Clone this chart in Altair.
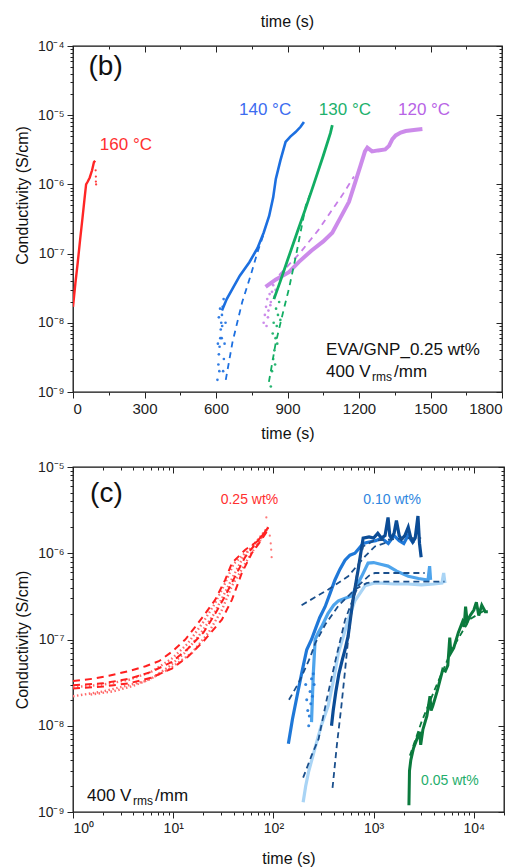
import altair as alt
import pandas as pd

FONT = "Liberation Sans"

# ---------------- Panel (b) data ----------------
b160_t = [0, 10, 20, 30, 40, 50, 55, 62, 70, 80, 88, 93]
b160_s = [1.7e-8, 3.7e-8, 7.5e-8, 1.6e-7, 3.3e-7, 7e-7, 1e-6, 1.1e-6, 1.25e-6, 1.6e-6, 2.1e-6, 2.2e-6]
b160_drop_t = [95, 96, 96, 97]
b160_drop_s = [1.6e-6, 1.3e-6, 1.1e-6, 1.0e-6]

b140_t = [625, 645, 669, 700, 740, 774, 800, 823, 840, 851, 870, 892, 912, 934, 955, 969]
b140_s = [1.5e-8, 2.2e-8, 3.1e-8, 4.8e-8, 7.5e-8, 1.2e-7, 2e-7, 3.5e-7, 6.5e-7, 1.2e-6, 2.2e-6, 4.1e-6, 4.9e-6, 5.7e-6, 6.8e-6, 8e-6]
b140_sc_t = [606, 610, 612, 615, 618, 620, 622, 625, 628, 630, 633, 636, 640, 612, 617, 624, 608, 614, 626, 632]
b140_sc_s = [1.5e-9, 2.5e-9, 3.5e-9, 4.5e-9, 6e-9, 8e-9, 1e-8, 1.3e-8, 1.7e-8, 2e-9, 3e-9, 5e-9, 1e-8, 1.2e-8, 1.6e-8, 6e-9, 5e-9, 2e-9, 9e-9, 2.2e-8]
b140_fit_t = [641, 669, 710, 746, 774, 800]
b140_fit_s = [1.5e-9, 5.2e-9, 2e-8, 4.9e-8, 1.05e-7, 1.9e-7]

b130_t = [843, 870, 900, 940, 976, 1010, 1050, 1080, 1088]
b130_s = [2.2e-8, 4e-8, 8e-8, 2e-7, 4.5e-7, 1e-6, 2.6e-6, 5.5e-6, 7.2e-6]
b130_sc_t = [830, 835, 840, 845, 850, 855, 860, 838, 848, 852, 842, 857, 865, 870]
b130_sc_s = [1.2e-9, 2e-9, 3e-9, 4e-9, 6e-9, 9e-9, 1.3e-8, 7e-9, 2.5e-9, 1.6e-8, 1e-8, 5e-9, 2e-8, 1.1e-8]
b130_fit_t = [822, 850, 885, 906, 936, 977, 1000]
b130_fit_s = [1.4e-9, 5e-9, 1.6e-8, 3.1e-8, 9.5e-8, 5e-7, 8e-7]

b120_t = [808, 850, 906, 948, 1000, 1050, 1088, 1120, 1158, 1185, 1207, 1225, 1235, 1255, 1280, 1310, 1326, 1340, 1354, 1375, 1396, 1430, 1466]
b120_s = [3.3e-8, 4.2e-8, 5.4e-8, 7.6e-8, 1.1e-7, 1.5e-7, 2e-7, 3.2e-7, 5.6e-7, 1.1e-6, 1.9e-6, 3e-6, 3.4e-6, 3.0e-6, 3.1e-6, 3.2e-6, 3.6e-6, 4.5e-6, 5.1e-6, 5.6e-6, 5.9e-6, 6.1e-6, 6.3e-6]
b120_sc_t = [800, 805, 810, 815, 820, 825, 830, 835, 840, 812, 818, 828, 845, 850]
b120_sc_s = [1e-8, 1.3e-8, 1.7e-8, 2.2e-8, 1.5e-8, 2.6e-8, 2e-8, 2.8e-8, 3.5e-8, 9e-9, 1.2e-8, 1.8e-8, 2.4e-8, 3e-8]
b120_fit_t = [865, 950, 1030, 1081, 1130, 1179]
b120_fit_s = [4.9e-8, 1e-7, 2.2e-7, 4e-7, 7e-7, 1.3e-6]

# ---------------- Panel (c) data ----------------
c25_fit1_t = [1, 1.56, 2.28, 3.6, 5.3, 7.2, 9.7, 13.2, 16.6, 20.9, 26.3, 33, 38.6, 52.4, 70.7, 89]
c25_fit1_s = [3.3e-8, 3.5e-8, 3.8e-8, 4.3e-8, 4.9e-8, 5.6e-8, 7.2e-8, 1e-7, 1.4e-7, 2e-7, 2.9e-7, 4.9e-7, 7.7e-7, 1.1e-6, 1.4e-6, 2e-6]
c25_fit2_t = [1, 2, 3.6, 6, 9.7, 14, 20, 26.3, 33, 41.5, 52.4, 70, 89]
c25_fit2_s = [2.95e-8, 3.1e-8, 3.5e-8, 4.2e-8, 5.5e-8, 7.8e-8, 1.2e-7, 2e-7, 3.2e-7, 5.4e-7, 9.1e-7, 1.4e-6, 2e-6]
c25_fit3_t = [1, 2, 3.6, 6, 9.7, 14, 20, 30.6, 38.6, 48.4, 60.8, 75, 89]
c25_fit3_s = [2.7e-8, 2.85e-8, 3.1e-8, 3.6e-8, 4.6e-8, 6.3e-8, 9.5e-8, 1.7e-7, 2.9e-7, 5.9e-7, 1e-6, 1.4e-6, 1.9e-6]
c25_d1_t = [1, 2, 3.6, 6, 9.7, 14, 20, 26, 33, 40, 52, 70, 89]
c25_d1_s = [2.8e-8, 3e-8, 3.4e-8, 4.2e-8, 6e-8, 9e-8, 1.6e-7, 2.6e-7, 4.5e-7, 7.5e-7, 1e-6, 1.3e-6, 2e-6]
c25_d2_t = [1.5, 2.5, 4, 6, 9, 13, 18, 25, 32, 40, 50, 65, 88]
c25_d2_s = [2.3e-8, 2.5e-8, 2.9e-8, 3.5e-8, 4.8e-8, 7e-8, 1.1e-7, 1.9e-7, 3.3e-7, 5.5e-7, 9e-7, 1.3e-6, 2e-6]
c25_d3_t = [1, 2, 3.35, 5.3, 9, 15.4, 22.5, 30.6, 38.6, 48.4, 60, 70.7, 89]
c25_d3_s = [2.2e-8, 2.5e-8, 2.9e-8, 3.3e-8, 4.5e-8, 7e-8, 1.2e-7, 2.2e-7, 4.2e-7, 6.5e-7, 1e-6, 1.3e-6, 2e-6]
c25_drop_t = [92, 94, 95, 96, 85]
c25_drop_s = [1.6e-6, 1.3e-6, 1.1e-6, 9e-7, 2.6e-6]

c10_b1_t = [380, 395, 420, 450, 490, 518, 557, 620, 700, 786, 900, 1000, 1100, 1196, 1300, 1393, 1450, 1505, 1600, 1689, 1800, 1895, 2050, 2215, 2350, 2460, 2600, 2770, 2870, 2980]
c10_b1_s = [1e-8, 1.5e-8, 2.5e-8, 4e-8, 6e-8, 7.6e-8, 1.1e-7, 2.8e-7, 6.4e-7, 1.5e-6, 1.55e-6, 1.5e-6, 1.7e-6, 1.5e-6, 1.6e-6, 2.6e-6, 1.6e-6, 1.5e-6, 1.7e-6, 2.4e-6, 1.6e-6, 1.45e-6, 1.6e-6, 2e-6, 1.5e-6, 1.35e-6, 1.5e-6, 2.7e-6, 1.3e-6, 9e-7]
c10_b2_t = [141, 155, 177, 195, 215, 240, 261, 290, 328, 370, 411, 460, 518, 580, 651, 720, 786, 900, 1050, 1200, 1400, 1600, 1800, 2000, 2200, 2500]
c10_b2_s = [6.2e-9, 1.2e-8, 2.6e-8, 4.5e-8, 7.6e-8, 1e-7, 1.3e-7, 1.8e-7, 2.4e-7, 3.5e-7, 4.9e-7, 6.5e-7, 8.3e-7, 9.5e-7, 1e-6, 1.15e-6, 1.3e-6, 1.35e-6, 1.4e-6, 1.5e-6, 1.3e-6, 1.6e-6, 1.4e-6, 1.3e-6, 1.6e-6, 1.3e-6]
c10_b2_sc_t = [210, 215, 220, 225, 228, 232, 236, 240, 245, 250, 255]
c10_b2_sc_s = [3e-8, 2e-8, 1.5e-8, 1e-8, 1.3e-8, 2.5e-8, 1.8e-8, 3.5e-8, 2.2e-8, 4e-8, 3e-8]
c10_b3_t = [240, 250, 261, 280, 302, 350, 400, 445, 520, 605, 680, 760, 880, 1000, 1200, 1393, 1700, 2215, 2800, 3490, 3620, 3700]
c10_b3_s = [1.1e-8, 4e-8, 1e-7, 1.2e-7, 1.4e-7, 2e-7, 2.5e-7, 2.8e-7, 3e-7, 3.2e-7, 4.2e-7, 5.4e-7, 7.7e-7, 7.8e-7, 7.4e-7, 7.1e-7, 6.2e-7, 5.4e-7, 5.1e-7, 4.9e-7, 7.1e-7, 4.9e-7]
c10_b4_t = [198, 210, 224, 260, 300, 352, 400, 445, 500, 557, 650, 820, 1000, 1196, 1600, 2200, 3000, 4000, 4800, 5000, 5150]
c10_b4_s = [1.3e-9, 2e-9, 2.9e-9, 5.5e-9, 1e-8, 1.7e-8, 3.5e-8, 7e-8, 1.1e-7, 1.7e-7, 2.8e-7, 4.2e-7, 4.5e-7, 4.5e-7, 4.4e-7, 4.4e-7, 4.3e-7, 4.4e-7, 4.5e-7, 5.9e-7, 4.5e-7]
c10_f1_t = [389, 430, 477, 520, 557, 620, 700, 786, 1000, 1500, 2200, 2980]
c10_f1_s = [1.9e-9, 6e-9, 1.7e-8, 4.5e-8, 1e-7, 2.8e-7, 7e-7, 1.2e-6, 1.4e-6, 1.45e-6, 1.5e-6, 1.5e-6]
c10_f2_t = [191, 353, 557, 820, 1030, 1400]
c10_f2_s = [2.5e-7, 3.8e-7, 5.4e-7, 9.2e-7, 1.2e-6, 1.35e-6]
c10_f3_t = [198, 240, 282, 340, 420, 520, 700, 900, 1030, 2000, 3230]
c10_f3_s = [2.5e-9, 4.5e-9, 7e-9, 2e-8, 6e-8, 1.7e-7, 4.2e-7, 5.5e-7, 5.9e-7, 5.9e-7, 5.9e-7]
c10_f4_t = [143, 180, 230, 261, 330, 450, 650, 850, 1030, 2000, 5100]
c10_f4_s = [2e-8, 3.2e-8, 6e-8, 9e-8, 1.5e-7, 2.5e-7, 3.8e-7, 4.5e-7, 4.7e-7, 4.7e-7, 4.7e-7]

c05_t = [2250, 2280, 2350, 2500, 2700, 2880, 2950, 3100, 3400, 3650, 3750, 3900, 4300, 4900, 5200, 5500, 5750, 5900, 6300, 7000, 7700, 8000, 8270, 8600, 9200, 10000, 10600, 11200, 12000, 13000, 13800]
c05_s = [1.2e-9, 3e-9, 4e-9, 5.5e-9, 7e-9, 8.5e-9, 6e-9, 9e-9, 1.3e-8, 2.2e-8, 1.5e-8, 1.7e-8, 2.5e-8, 4.5e-8, 4.3e-8, 5e-8, 1.05e-7, 7e-8, 8e-8, 1.2e-7, 1.6e-7, 1.4e-7, 2.4e-7, 1.6e-7, 1.9e-7, 2.2e-7, 2.7e-7, 1.9e-7, 2.5e-7, 2.1e-7, 2.1e-7]
c05_fit_t = [2300, 3000, 4000, 6000, 9000, 13000]
c05_fit_s = [4.5e-9, 1.1e-8, 2.5e-8, 7.5e-8, 1.7e-7, 2.2e-7]

# tick values
b_xmaj = [0, 300, 600, 900, 1200, 1500, 1800]
b_xmin = [150, 450, 750, 1050, 1350, 1650]
b_ymaj = [1e-9, 1e-8, 1e-7, 1e-6, 1e-5, 1e-4]
b_ymin = [k * 10.0 ** e for e in range(-9, -4) for k in range(2, 10)]
c_xmaj = [1, 10, 100, 1000, 10000]
c_xmin = [k * 10.0 ** e for e in range(0, 4) for k in range(2, 10)] + [20000]
c_ymaj = [1e-9, 1e-8, 1e-7, 1e-6, 1e-5]
c_ymin = [k * 10.0 ** e for e in range(-9, -5) for k in range(2, 10)]


def sup_expr():
    e = "toString(round(log(datum.value)/LN10))"
    for a, b in [("-", "⁻"), ("0", "⁰"), ("1", "¹"), ("2", "²"), ("3", "³"), ("4", "⁴"),
                 ("5", "⁵"), ("6", "⁶"), ("7", "⁷"), ("8", "⁸"), ("9", "⁹")]:
        e = f"replace({e}, '{a}', '{b}')"
    return "'10' + " + e


def df(t, s):
    return pd.DataFrame({"t": t, "s": s})


def enc(chart, xs, ys):
    return chart.encode(x=alt.X("t:Q", scale=xs, axis=None), y=alt.Y("s:Q", scale=ys, axis=None))


def line(t, s, color, xs, ys, width=2.2, dash=None, opacity=1.0):
    kw = dict(color=color, strokeWidth=width, clip=True, opacity=opacity)
    if dash:
        kw["strokeDash"] = dash
    return enc(alt.Chart(df(t, s)).mark_line(**kw), xs, ys)


def dots(t, s, color, xs, ys, size=7):
    return enc(alt.Chart(df(t, s)).mark_circle(color=color, size=size, opacity=0.9, clip=True), xs, ys)


def label(t, s, text, xs, ys, color="#111", size=16, align="center", dx=0, dy=0):
    d = pd.DataFrame({"t": [t], "s": [s], "txt": [text]})
    return alt.Chart(d).mark_text(color=color, fontSize=size, font=FONT, align=align,
                                  baseline="middle", dx=dx, dy=dy).encode(
        x=alt.X("t:Q", scale=xs, axis=None), y=alt.Y("s:Q", scale=ys, axis=None), text="txt:N")


AX = dict(grid=False, domain=False, tickColor="#222", tickWidth=1, labelColor="#222",
          labelFont=FONT, titleFont=FONT, titleFontSize=16, titleFontWeight="normal", titleColor="#111")


def axes(xs, ys, xmaj, xmin, ymaj, ymin, xlabel_expr, xformat, xlabel_size, ylab_title_y, xtitle_pad):
    d = df([xmaj[1]], [ymaj[1]])
    base = alt.Chart(d).mark_point(opacity=0)
    xkw = dict(values=xmaj, title="time (s)", orient="bottom", tickSize=6, labelFontSize=xlabel_size,
               titlePadding=xtitle_pad, labelPadding=3, **AX)
    if xlabel_expr:
        xkw["labelExpr"] = xlabel_expr
    if xformat:
        xkw["format"] = xformat
    ykw = dict(values=ymaj, title="Conductivity (S/cm)", orient="left", tickSize=6,
               labelExpr=sup_expr(), labelFontSize=14, titlePadding=7, labelPadding=3, **AX)
    if ylab_title_y is not None:
        ykw["titleY"] = ylab_title_y
    main = base.encode(x=alt.X("t:Q", scale=xs, axis=alt.Axis(**xkw)),
                       y=alt.Y("s:Q", scale=ys, axis=alt.Axis(**ykw)))
    minor = base.encode(
        x=alt.X("t:Q", scale=xs, axis=alt.Axis(values=xmin, orient="bottom", tickSize=3, labels=False, title=None, **AX)),
        y=alt.Y("s:Q", scale=ys, axis=alt.Axis(values=ymin, orient="left", tickSize=3, labels=False, title=None, **AX)))
    mirror = base.encode(
        x=alt.X("t:Q", scale=xs, axis=alt.Axis(values=xmaj, orient="top", tickSize=6, offset=-6, labels=False, title=None, **AX)),
        y=alt.Y("s:Q", scale=ys, axis=alt.Axis(values=ymaj, orient="right", tickSize=6, offset=-6, labels=False, title=None, **AX)))
    mirror_min = base.encode(
        x=alt.X("t:Q", scale=xs, axis=alt.Axis(values=xmin, orient="top", tickSize=3, offset=-3, labels=False, title=None, **AX)),
        y=alt.Y("s:Q", scale=ys, axis=alt.Axis(values=ymin, orient="right", tickSize=3, offset=-3, labels=False, title=None, **AX)))
    return [main, minor, mirror, mirror_min]


# ---------------- Panel (b) ----------------
xb = alt.Scale(domain=[0, 1800], nice=False)
yb = alt.Scale(type="log", domain=[1e-9, 1e-4], nice=False)

RED, BLUE, GREEN, PURPLE = "#ff2626", "#1c6fe0", "#12ad63", "#c77ee8"

layers_b = axes(xb, yb, b_xmaj, b_xmin, b_ymaj, b_ymin, None, "d", 15, 149, 9) + [
    dots(b120_sc_t, b120_sc_s, PURPLE, xb, yb),
    line(b120_t, b120_s, PURPLE, xb, yb, width=4, opacity=0.9),
    line(b120_fit_t, b120_fit_s, PURPLE, xb, yb, width=1.8, dash=[6, 5]),
    dots(b140_sc_t, b140_sc_s, BLUE, xb, yb),
    line(b140_t, b140_s, BLUE, xb, yb, width=2.6),
    line(b140_fit_t, b140_fit_s, BLUE, xb, yb, width=1.8, dash=[6, 5]),
    dots(b130_sc_t, b130_sc_s, GREEN, xb, yb),
    line(b130_t, b130_s, GREEN, xb, yb, width=2.8),
    line(b130_fit_t, b130_fit_s, GREEN, xb, yb, width=1.8, dash=[6, 5]),
    line(b160_t, b160_s, RED, xb, yb, width=2.4),
    dots(b160_drop_t, b160_drop_s, RED, xb, yb, size=5),
    label(65, 5e-5, "(b)", xb, yb, size=28, align="left"),
    label(222, 3.7e-6, "160 °C", xb, yb, color="#ff3030", size=17),
    label(806, 1.2e-5, "140 °C", xb, yb, color="#3c6cf0", size=17),
    label(1141, 1.2e-5, "130 °C", xb, yb, color="#1db16d", size=17),
    label(1473, 1.2e-5, "120 °C", xb, yb, color="#b763e6", size=17),
    label(1062, 4.1e-9, "EVA/GNP_0.25 wt%", xb, yb, size=17, align="left"),
    label(1062, 1.95e-9, "400 V", xb, yb, size=17, align="left"),
    label(1062, 1.95e-9, "rms", xb, yb, size=12, align="left", dx=46, dy=5),
    label(1062, 1.95e-9, "/mm", xb, yb, size=17, align="left", dx=68),
]

panel_b = alt.layer(*layers_b).resolve_axis(x="independent", y="independent").properties(
    width=429, height=346,
    title=alt.TitleParams("time (s)", fontSize=16, font=FONT, fontWeight="normal", color="#111",
                          anchor="middle", offset=9))

# ---------------- Panel (c) ----------------
xc = alt.Scale(type="log", domain=[1, 20000], nice=False)
yc = alt.Scale(type="log", domain=[1e-9, 1e-5], nice=False)

NAVY, MED, LIGHT, LIGHTEST, DNAVY = "#0b4c96", "#1f78d8", "#4ea4ec", "#a9d4f5", "#1a4f8c"
RED2, REDD, DGREEN = "#ff2020", "#ff6a6a", "#0b7a3d"

layers_c = axes(xc, yc, c_xmaj, c_xmin, c_ymaj, c_ymin, sup_expr(), None, 14, None, 15) + [
    line(c25_d1_t, c25_d1_s, REDD, xc, yc, width=2.4, dash=[1.5, 2.5]),
    line(c25_d2_t, c25_d2_s, REDD, xc, yc, width=2.4, dash=[1.5, 2.5]),
    line(c25_d3_t, c25_d3_s, REDD, xc, yc, width=2.4, dash=[1.5, 2.5]),
    dots(c25_drop_t, c25_drop_s, REDD, xc, yc, size=5),
    line(c25_fit1_t, c25_fit1_s, RED2, xc, yc, width=2, dash=[7, 5]),
    line(c25_fit2_t, c25_fit2_s, RED2, xc, yc, width=2, dash=[7, 5]),
    line(c25_fit3_t, c25_fit3_s, RED2, xc, yc, width=2, dash=[7, 5]),
    line(c10_b4_t, c10_b4_s, LIGHTEST, xc, yc, width=3.2),
    line(c10_b3_t, c10_b3_s, LIGHT, xc, yc, width=3.2),
    line(c10_b2_t, c10_b2_s, MED, xc, yc, width=3.2),
    dots(c10_b2_sc_t, c10_b2_sc_s, MED, xc, yc, size=9),
    line(c10_b1_t, c10_b1_s, NAVY, xc, yc, width=3.2),
    line(c10_f1_t, c10_f1_s, DNAVY, xc, yc, width=1.8, dash=[6, 4]),
    line(c10_f2_t, c10_f2_s, DNAVY, xc, yc, width=1.8, dash=[6, 4]),
    line(c10_f3_t, c10_f3_s, DNAVY, xc, yc, width=1.8, dash=[6, 4]),
    line(c10_f4_t, c10_f4_s, DNAVY, xc, yc, width=1.8, dash=[6, 4]),
    line(c05_t, c05_s, DGREEN, xc, yc, width=3),
    line(c05_fit_t, c05_fit_s, DGREEN, xc, yc, width=1.8, dash=[6, 4]),
    label(1.48, 4.8e-6, "(c)", xc, yc, size=28, align="left"),
    label(57.7, 4.1e-6, "0.25 wt%", xc, yc, color="#ff3030", size=14),
    label(1528, 4.1e-6, "0.10 wt%", xc, yc, color="#2d86e0", size=14),
    label(5770, 2.3e-9, "0.05 wt%", xc, yc, color="#1fae6c", size=14),
    label(1.38, 1.53e-9, "400 V", xc, yc, size=17, align="left"),
    label(1.38, 1.53e-9, "rms", xc, yc, size=12, align="left", dx=46, dy=5),
    label(1.38, 1.53e-9, "/mm", xc, yc, size=17, align="left", dx=68),
]

panel_c = alt.layer(*layers_c).resolve_axis(x="independent", y="independent").properties(
    width=431, height=345)

chart = alt.vconcat(panel_b, panel_c, spacing=17).properties(
    padding={"left": 13, "top": 13, "right": 10, "bottom": 4}, background="white"
).configure_view(stroke="#111", strokeWidth=1.3).configure_axis(**AX)

chart.save("out.html", embed_options={"renderer": "svg", "actions": False})
